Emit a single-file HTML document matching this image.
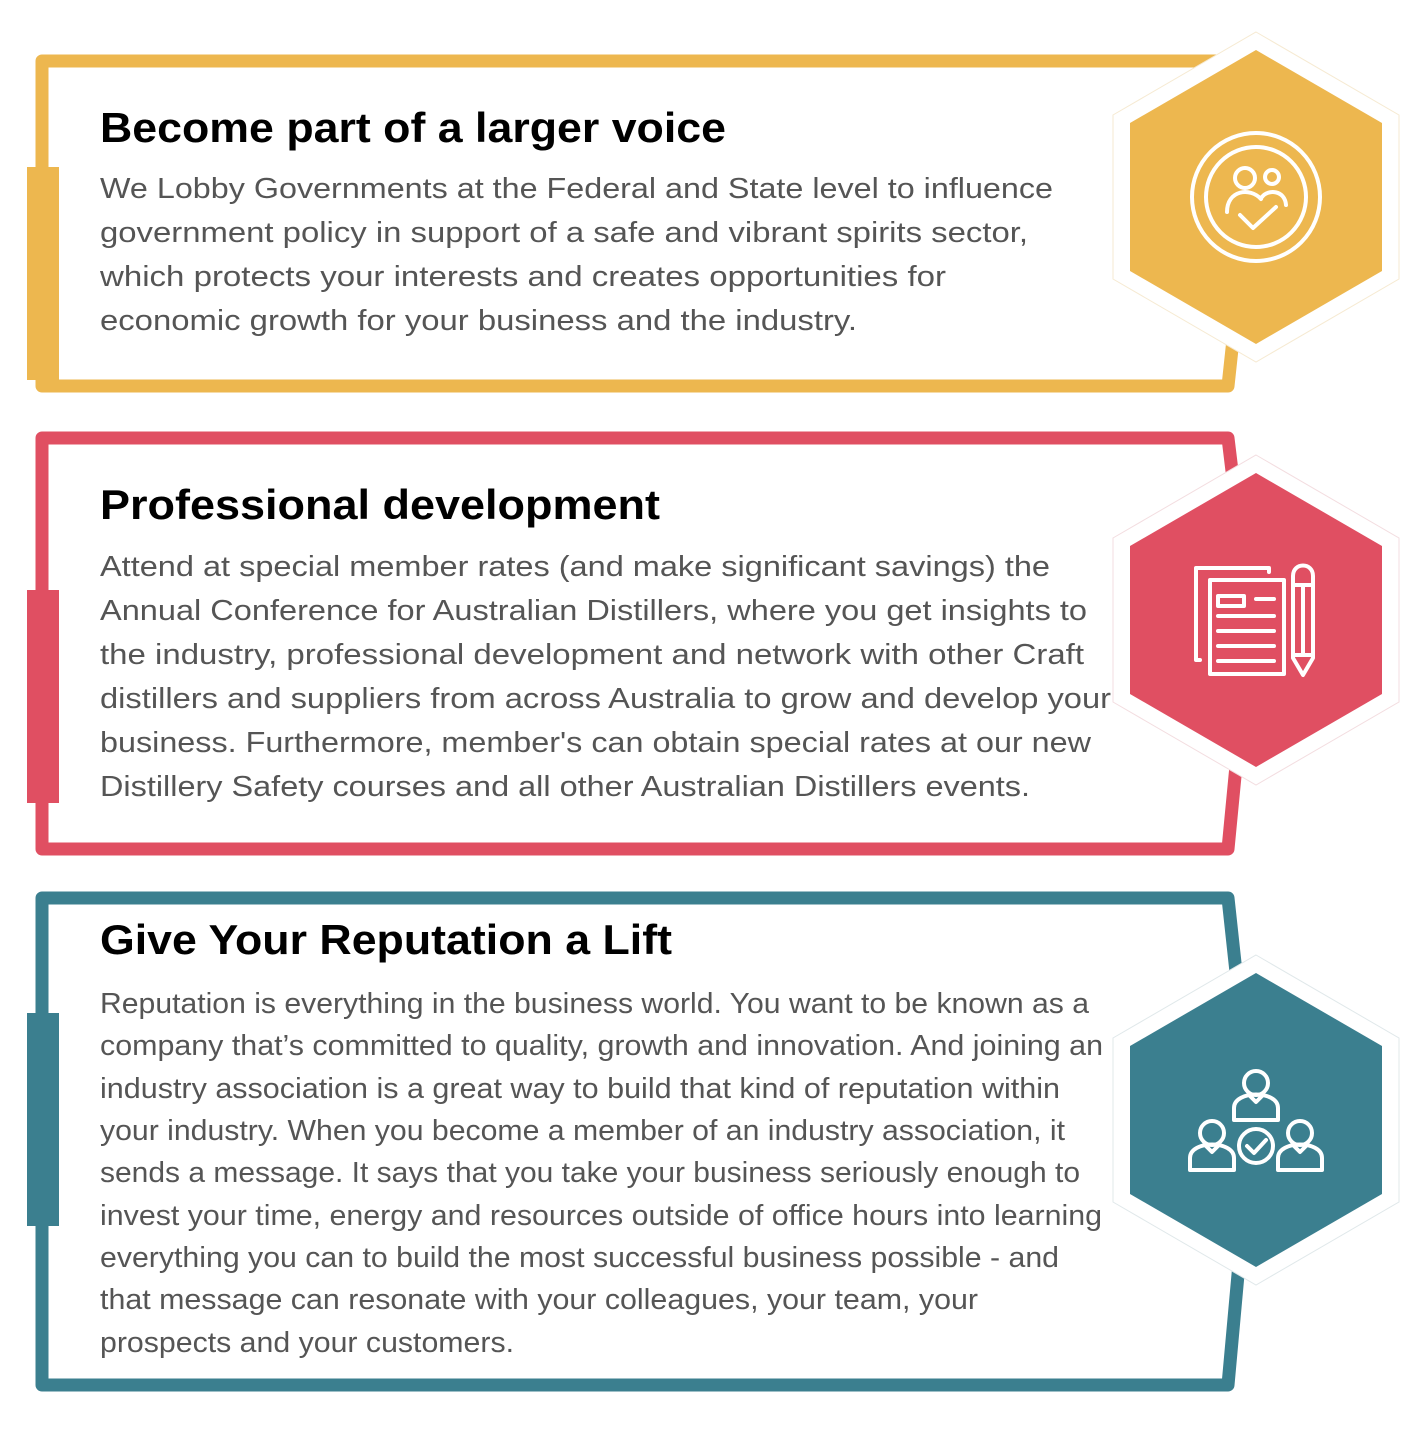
<!DOCTYPE html>
<html><head><meta charset="utf-8"><style>
html,body{margin:0;padding:0;background:#fff;}
svg{display:block;}
.t{font-family:"Liberation Sans",sans-serif;font-weight:bold;font-size:42px;fill:#000;}
.b{font-family:"Liberation Sans",sans-serif;font-size:29px;fill:#555;}
</style></head><body>
<svg width="1422" height="1442" viewBox="0 0 1422 1442" xmlns="http://www.w3.org/2000/svg">
<g fill="none" stroke-width="13" stroke-linejoin="round">
<path d="M42,61 L1226,61 L1248,200 L1228,386 L42,386 Z" stroke="#EDB74F"/>
<path d="M42,438 L1228,438 L1250,620 L1228,849 L42,849 Z" stroke="#E04F62"/>
<path d="M42,898 L1228,898 L1252,1120 L1228,1385 L42,1385 Z" stroke="#3B7F8F"/>
</g>
<rect x="27" y="167" width="32" height="213" fill="#EDB74F"/>
<rect x="27" y="590" width="32" height="213" fill="#E04F62"/>
<rect x="27" y="1013" width="32" height="213" fill="#3B7F8F"/>

<g>
<polygon points="1256,32 1399,115 1399,279 1256,362 1113,279 1113,115" fill="#fff" stroke="#f6ead2" stroke-width="1"/>
<polygon points="1256,50 1382,123 1382,271 1256,344 1130,271 1130,123" fill="#EDB74F"/>
<polygon points="1256,455 1399,538 1399,702 1256,785 1113,702 1113,538" fill="#fff" stroke="#f3dde0" stroke-width="1"/>
<polygon points="1256,473 1382,546 1382,694 1256,767 1130,694 1130,546" fill="#E04F62"/>
<polygon points="1256,955 1399,1038 1399,1202 1256,1285 1113,1202 1113,1038" fill="#fff" stroke="#e0e8ea" stroke-width="1"/>
<polygon points="1256,973 1382,1046 1382,1194 1256,1267 1130,1194 1130,1046" fill="#3B7F8F"/>
</g>

<g fill="none" stroke="#fff" stroke-width="4" stroke-linecap="round" stroke-linejoin="round">
<circle cx="1256" cy="197" r="64"/>
<circle cx="1256" cy="197" r="50"/>
<circle cx="1245" cy="178" r="10"/>
<circle cx="1272" cy="177" r="7"/>
<path d="M1227,212 C1227,190 1250,187 1261,199"/>
<path d="M1262,197 C1268,189 1285,190 1286,205"/>
<path d="M1240,215 L1253,228 L1276,207"/>
</g>

<g fill="none" stroke="#fff" stroke-width="4" stroke-linecap="round" stroke-linejoin="round">
<path d="M1200,660 L1196,660 L1196,568 L1269,568 L1269,572"/>
<rect x="1210" y="580" width="74" height="94"/>
<rect x="1218" y="596" width="26" height="10"/>
<line x1="1256" y1="599" x2="1274" y2="599"/>
<line x1="1218" y1="616" x2="1274" y2="616"/>
<line x1="1218" y1="631" x2="1274" y2="631"/>
<line x1="1218" y1="646" x2="1274" y2="646"/>
<line x1="1218" y1="661" x2="1274" y2="661"/>
<path d="M1293,576 C1293,562 1313,562 1313,576 L1313,658 L1303,675 L1293,658 Z"/>
<line x1="1293" y1="585" x2="1313" y2="585"/>
<line x1="1303" y1="585" x2="1303" y2="655"/>
<line x1="1293" y1="655" x2="1313" y2="655"/>
</g>

<g fill="none" stroke="#fff" stroke-width="4" stroke-linecap="round" stroke-linejoin="round">
<circle cx="1256" cy="1083" r="12"/>
<path d="M1234,1120 L1234,1108 C1234,1090 1278,1090 1278,1108 L1278,1120 Z"/>
<path d="M1249,1095 L1256,1102 L1263,1095"/>
<circle cx="1212" cy="1133" r="12"/>
<path d="M1190,1170 L1190,1158 C1190,1140 1234,1140 1234,1158 L1234,1170 Z"/>
<path d="M1205,1145 L1212,1152 L1219,1145"/>
<circle cx="1300" cy="1133" r="12"/>
<path d="M1278,1170 L1278,1158 C1278,1140 1322,1140 1322,1158 L1322,1170 Z"/>
<path d="M1293,1145 L1300,1152 L1307,1145"/>
<circle cx="1256" cy="1146" r="17"/>
<path d="M1247,1146 L1254,1153 L1266,1140"/>
</g>

<g lengthAdjust="spacingAndGlyphs">
<text class="t" x="100" y="142" textLength="626" lengthAdjust="spacingAndGlyphs">Become part of a larger voice</text>
<text class="b" x="100" y="198" textLength="953" lengthAdjust="spacingAndGlyphs">We Lobby Governments at the Federal and State level to influence</text>
<text class="b" x="100" y="242" textLength="928" lengthAdjust="spacingAndGlyphs">government policy in support of a safe and vibrant spirits sector,</text>
<text class="b" x="100" y="286" textLength="846" lengthAdjust="spacingAndGlyphs">which protects your interests and creates opportunities for</text>
<text class="b" x="100" y="330" textLength="757" lengthAdjust="spacingAndGlyphs">economic growth for your business and the industry.</text>

<text class="t" x="100" y="519" textLength="560" lengthAdjust="spacingAndGlyphs">Professional development</text>
<text class="b" x="100" y="576" textLength="950" lengthAdjust="spacingAndGlyphs">Attend at special member rates (and make significant savings) the</text>
<text class="b" x="100" y="620" textLength="987" lengthAdjust="spacingAndGlyphs">Annual Conference for Australian Distillers, where you get insights to</text>
<text class="b" x="100" y="664" textLength="984" lengthAdjust="spacingAndGlyphs">the industry, professional development and network with other Craft</text>
<text class="b" x="100" y="708" textLength="1011" lengthAdjust="spacingAndGlyphs">distillers and suppliers from across Australia to grow and develop your</text>
<text class="b" x="100" y="752" textLength="991" lengthAdjust="spacingAndGlyphs">business. Furthermore, member's can obtain special rates at our new</text>
<text class="b" x="100" y="796" textLength="930" lengthAdjust="spacingAndGlyphs">Distillery Safety courses and all other Australian Distillers events.</text>

<text class="t" x="100" y="954" textLength="572" lengthAdjust="spacingAndGlyphs">Give Your Reputation a Lift</text>
<text class="b" x="100" y="1013" textLength="989" lengthAdjust="spacingAndGlyphs">Reputation is everything in the business world. You want to be known as a</text>
<text class="b" x="100" y="1055" textLength="1003" lengthAdjust="spacingAndGlyphs">company that’s committed to quality, growth and innovation. And joining an</text>
<text class="b" x="100" y="1098" textLength="960" lengthAdjust="spacingAndGlyphs">industry association is a great way to build that kind of reputation within</text>
<text class="b" x="100" y="1140" textLength="965" lengthAdjust="spacingAndGlyphs">your industry. When you become a member of an industry association, it</text>
<text class="b" x="100" y="1182" textLength="980" lengthAdjust="spacingAndGlyphs">sends a message. It says that you take your business seriously enough to</text>
<text class="b" x="100" y="1225" textLength="1002" lengthAdjust="spacingAndGlyphs">invest your time, energy and resources outside of office hours into learning</text>
<text class="b" x="100" y="1267" textLength="959" lengthAdjust="spacingAndGlyphs">everything you can to build the most successful business possible - and</text>
<text class="b" x="100" y="1309" textLength="878" lengthAdjust="spacingAndGlyphs">that message can  resonate with your colleagues, your team, your</text>
<text class="b" x="100" y="1352" textLength="414" lengthAdjust="spacingAndGlyphs">prospects and your customers.</text>
</g>
</svg>
</body></html>
